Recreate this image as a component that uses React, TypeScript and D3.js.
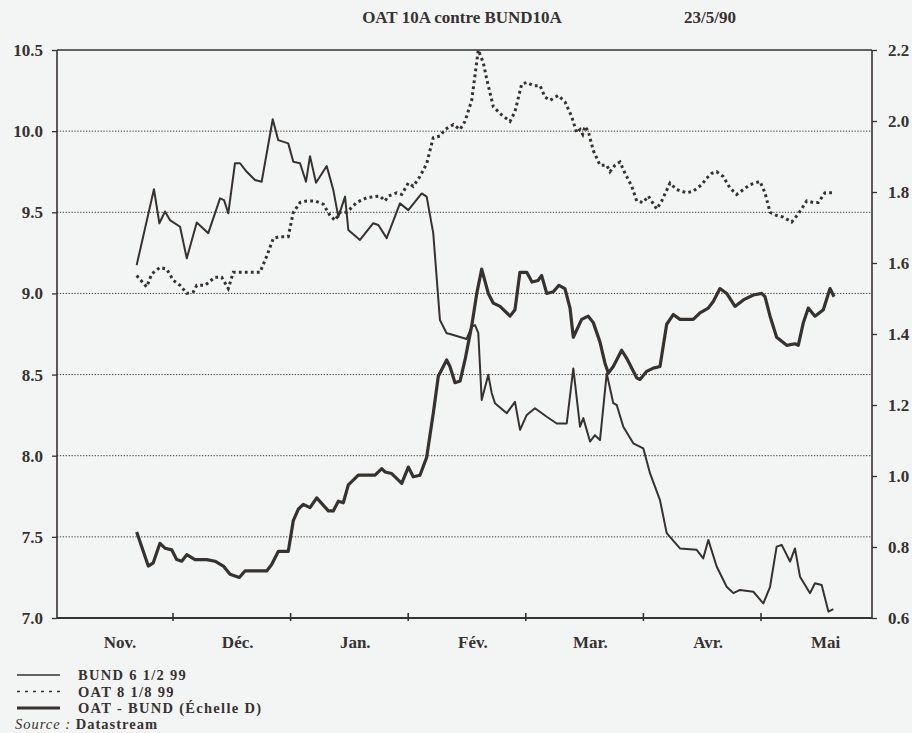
import { useRef, useEffect } from "react";
import * as d3 from "d3";

// x = months since 1 Nov 1989 (equal-width months), y = value
const bund: [number, number][] = [
  [0.691, 7.53], [0.79, 7.32], [0.832, 7.34], [0.889, 7.46], [0.932, 7.43], [0.989, 7.42],
  [1.031, 7.36], [1.074, 7.35], [1.117, 7.39], [1.187, 7.36], [1.287, 7.36], [1.357, 7.35],
  [1.428, 7.32], [1.485, 7.27], [1.564, 7.25], [1.612, 7.29], [1.683, 7.29], [1.797, 7.29],
  [1.839, 7.33], [1.895, 7.41], [1.98, 7.41], [2.023, 7.6], [2.065, 7.67], [2.108, 7.7],
  [2.165, 7.68], [2.222, 7.74], [2.321, 7.66], [2.363, 7.66], [2.406, 7.72], [2.448, 7.71],
  [2.491, 7.82], [2.576, 7.88], [2.718, 7.88], [2.775, 7.92], [2.803, 7.9], [2.86, 7.89],
  [2.945, 7.83], [3.001, 7.93], [3.043, 7.87], [3.1, 7.88], [3.157, 7.99], [3.213, 8.26],
  [3.256, 8.49], [3.327, 8.59], [3.355, 8.55], [3.398, 8.45], [3.441, 8.46], [3.483, 8.59],
  [3.54, 8.8], [3.583, 9.0], [3.625, 9.15], [3.681, 9.0], [3.724, 8.94], [3.781, 8.92],
  [3.866, 8.86], [3.908, 8.9], [3.95, 9.13], [4.008, 9.13], [4.053, 9.07], [4.104, 9.08],
  [4.135, 9.11], [4.178, 9.0], [4.234, 9.01], [4.282, 9.05], [4.333, 9.03], [4.376, 8.91],
  [4.404, 8.73], [4.475, 8.84], [4.531, 8.86], [4.574, 8.82], [4.631, 8.7], [4.673, 8.57],
  [4.702, 8.51], [4.744, 8.55], [4.815, 8.65], [4.858, 8.6], [4.943, 8.48], [4.971, 8.47],
  [5.028, 8.52], [5.084, 8.54], [5.141, 8.55], [5.198, 8.81], [5.254, 8.87], [5.311, 8.84],
  [5.424, 8.84], [5.481, 8.88], [5.552, 8.91], [5.594, 8.95], [5.651, 9.03], [5.708, 9.0],
  [5.779, 8.92], [5.85, 8.96], [5.935, 8.99], [6.006, 9.0], [6.034, 8.98], [6.077, 8.86],
  [6.133, 8.73], [6.219, 8.68], [6.289, 8.69], [6.317, 8.68], [6.36, 8.82], [6.402, 8.91],
  [6.459, 8.86], [6.53, 8.9], [6.587, 9.03], [6.621, 8.98],
];

const oat: [number, number][] = [
  [0.691, 9.11], [0.776, 9.04], [0.819, 9.12], [0.889, 9.16], [0.946, 9.15], [1.003, 9.08],
  [1.06, 9.05], [1.117, 9.0], [1.173, 9.01], [1.202, 9.05], [1.272, 9.05], [1.357, 9.1],
  [1.414, 9.1], [1.47, 9.03], [1.513, 9.13], [1.598, 9.13], [1.74, 9.13], [1.797, 9.23],
  [1.853, 9.34], [1.91, 9.35], [1.98, 9.35], [2.023, 9.5], [2.08, 9.56], [2.137, 9.57],
  [2.207, 9.57], [2.278, 9.55], [2.335, 9.48], [2.378, 9.45], [2.42, 9.5], [2.477, 9.5],
  [2.562, 9.56], [2.647, 9.59], [2.76, 9.6], [2.803, 9.57], [2.831, 9.6], [2.902, 9.62],
  [2.945, 9.61], [3.001, 9.68], [3.043, 9.66], [3.1, 9.72], [3.157, 9.8], [3.213, 9.96],
  [3.27, 9.97], [3.313, 10.01], [3.384, 10.04], [3.441, 10.01], [3.483, 10.06], [3.54, 10.19],
  [3.596, 10.5], [3.639, 10.42], [3.668, 10.32], [3.724, 10.15], [3.795, 10.1], [3.866, 10.06],
  [3.908, 10.12], [3.965, 10.29], [4.008, 10.3], [4.064, 10.28], [4.121, 10.28], [4.163, 10.21],
  [4.206, 10.19], [4.276, 10.22], [4.333, 10.18], [4.39, 10.09], [4.433, 9.99], [4.461, 10.01],
  [4.484, 9.98], [4.503, 10.03], [4.531, 10.0], [4.574, 9.88], [4.631, 9.79], [4.688, 9.79],
  [4.716, 9.75], [4.759, 9.79], [4.801, 9.81], [4.844, 9.74], [4.901, 9.66], [4.943, 9.57],
  [4.999, 9.56], [5.042, 9.6], [5.113, 9.52], [5.156, 9.57], [5.226, 9.68], [5.283, 9.64],
  [5.368, 9.62], [5.424, 9.63], [5.496, 9.67], [5.538, 9.71], [5.581, 9.74], [5.623, 9.75],
  [5.679, 9.72], [5.736, 9.65], [5.793, 9.61], [5.85, 9.64], [5.906, 9.67], [5.991, 9.69],
  [6.034, 9.62], [6.077, 9.5], [6.133, 9.48], [6.19, 9.47], [6.261, 9.44], [6.317, 9.49],
  [6.389, 9.57], [6.445, 9.56], [6.487, 9.56], [6.544, 9.62], [6.615, 9.62],
];

const spread: [number, number][] = [
  [0.691, 1.594], [0.838, 1.808], [0.884, 1.712], [0.932, 1.745], [0.974, 1.721], [1.06, 1.702],
  [1.117, 1.613], [1.202, 1.714], [1.3, 1.684], [1.4, 1.782], [1.434, 1.777], [1.47, 1.74],
  [1.527, 1.881], [1.57, 1.881], [1.627, 1.857], [1.697, 1.834], [1.754, 1.829], [1.848, 2.005],
  [1.895, 1.946], [1.98, 1.937], [2.023, 1.885], [2.08, 1.881], [2.131, 1.829], [2.165, 1.901],
  [2.216, 1.826], [2.307, 1.873], [2.363, 1.806], [2.406, 1.73], [2.463, 1.787], [2.491, 1.693],
  [2.59, 1.665], [2.703, 1.712], [2.746, 1.707], [2.817, 1.67], [2.93, 1.768], [3.001, 1.749],
  [3.115, 1.796], [3.157, 1.787], [3.213, 1.684], [3.27, 1.439], [3.327, 1.402], [3.355, 1.4],
  [3.497, 1.386], [3.54, 1.421], [3.568, 1.425], [3.596, 1.403], [3.625, 1.214], [3.681, 1.285],
  [3.71, 1.234], [3.738, 1.205], [3.838, 1.177], [3.908, 1.209], [3.951, 1.13], [4.008, 1.172],
  [4.078, 1.191], [4.178, 1.167], [4.263, 1.148], [4.348, 1.148], [4.404, 1.303], [4.461, 1.139],
  [4.489, 1.163], [4.546, 1.097], [4.588, 1.115], [4.631, 1.101], [4.688, 1.289], [4.744, 1.205],
  [4.773, 1.2], [4.829, 1.139], [4.914, 1.092], [4.999, 1.078], [5.056, 1.008], [5.141, 0.932],
  [5.198, 0.839], [5.311, 0.796], [5.453, 0.792], [5.509, 0.768], [5.552, 0.82], [5.623, 0.745],
  [5.708, 0.688], [5.765, 0.67], [5.821, 0.679], [5.935, 0.674], [6.02, 0.641], [6.077, 0.688],
  [6.133, 0.801], [6.176, 0.806], [6.247, 0.759], [6.289, 0.796], [6.332, 0.716], [6.417, 0.67],
  [6.459, 0.698], [6.516, 0.693], [6.573, 0.618], [6.615, 0.625],
];

const months = ["Nov.", "Déc.", "Jan.", "Fév.", "Mar.", "Avr.", "Mai"];
const leftMajor = [7.0, 7.5, 8.0, 8.5, 9.0, 9.5, 10.0, 10.5];
const gridValues = [7.5, 8.0, 8.5, 9.0, 9.5, 10.0];
const rightMajor = [0.6, 0.8, 1.0, 1.2, 1.4, 1.6, 1.8, 2.0, 2.2];
const legendItems = ["BUND 6 1/2 99", "OAT 8 1/8 99", "OAT - BUND (Échelle D)"];

const INK = "#363230";
const PAPER = "#f3f5f4";
const FONT = "'Liberation Serif', 'Times New Roman', serif";

const App = () => {
  const svgRef = useRef<SVGSVGElement>(null);

  useEffect(() => {
    if (!svgRef.current) return;
    const width = 912;
    const height = 733;
    const left = 57;
    const right = 872;
    const top = 50;
    const bottom = 618;

    const svg = d3.select(svgRef.current).attr("width", width).attr("height", height);
    svg.selectAll("*").remove();

    svg.append("rect").attr("width", width).attr("height", height).attr("fill", PAPER);

    const x = d3.scaleLinear().domain([0, 7]).range([55.4, 878.6]);
    const yL = d3.scaleLinear().domain([7, 10.5]).range([bottom, top]);
    const yR = d3.scaleLinear().domain([0.6, 2.2]).range([bottom, top]);

    // dotted grid
    svg
      .append("g")
      .selectAll("line")
      .data(gridValues)
      .join("line")
      .attr("x1", left)
      .attr("x2", right)
      .attr("y1", (d) => yL(d))
      .attr("y2", (d) => yL(d))
      .attr("stroke", "#3e3a38")
      .attr("stroke-width", 1)
      .attr("stroke-dasharray", "1.3,1.6");

    // left axis: minor ticks, then major ticks + labels
    const minorL = d3.range(70, 106).map((d) => d / 10);
    const axL = svg.append("g").attr("transform", `translate(${left},0)`);
    axL.call(d3.axisLeft(yL).tickValues(minorL).tickSize(3).tickFormat(() => ""));
    axL.call(
      d3.axisLeft(yL).tickValues(leftMajor).tickSize(5).tickPadding(9).tickFormat(d3.format(".1f"))
    );
    axL.selectAll(".domain").remove();

    const minorR = d3.range(0, 41).map((i) => 0.6 + i * 0.04);
    const axR = svg.append("g").attr("transform", `translate(${right},0)`);
    axR.call(d3.axisRight(yR).tickValues(minorR).tickSize(4).tickFormat(() => ""));
    axR.call(
      d3.axisRight(yR).tickValues(rightMajor).tickSize(5).tickPadding(11).tickFormat(d3.format(".1f"))
    );
    axR.selectAll(".domain").remove();

    [axL, axR].forEach((g) => {
      g.selectAll("line").attr("stroke", INK).attr("stroke-width", 1.3);
      g.selectAll("text")
        .attr("fill", INK)
        .style("font-family", FONT)
        .style("font-size", "17px")
        .style("font-weight", "bold");
    });

    // frame
    const frame = svg.append("g").attr("stroke", INK).attr("fill", "none");
    frame.append("line").attr("x1", left).attr("x2", right).attr("y1", top).attr("y2", top).attr("stroke-width", 1.6);
    frame.append("line").attr("x1", left).attr("x2", right).attr("y1", bottom).attr("y2", bottom).attr("stroke-width", 2.2);
    frame.append("line").attr("x1", left).attr("x2", left).attr("y1", top).attr("y2", bottom).attr("stroke-width", 1.6);
    frame.append("line").attr("x1", right).attr("x2", right).attr("y1", top).attr("y2", bottom).attr("stroke-width", 1.6);

    // month ticks and labels
    svg
      .append("g")
      .selectAll("line")
      .data(d3.range(1, 7))
      .join("line")
      .attr("x1", (d) => x(d))
      .attr("x2", (d) => x(d))
      .attr("y1", bottom - 5)
      .attr("y2", bottom + 3)
      .attr("stroke", INK)
      .attr("stroke-width", 1.6);

    svg
      .append("g")
      .selectAll("text")
      .data(months)
      .join("text")
      .attr("x", (d, i) => x(i + 0.55))
      .attr("y", 648)
      .attr("text-anchor", "middle")
      .attr("fill", INK)
      .style("font-family", FONT)
      .style("font-size", "17px")
      .style("font-weight", "bold")
      .text((d) => d);

    // series
    const lineL = d3
      .line<[number, number]>()
      .x((d) => x(d[0]))
      .y((d) => yL(d[1]));
    const lineR = d3
      .line<[number, number]>()
      .x((d) => x(d[0]))
      .y((d) => yR(d[1]));

    svg
      .append("path")
      .datum(oat)
      .attr("d", lineL)
      .attr("fill", "none")
      .attr("stroke", INK)
      .attr("stroke-width", 3)
      .attr("stroke-dasharray", "2.8,3.2");

    svg
      .append("path")
      .datum(spread)
      .attr("d", lineR)
      .attr("fill", "none")
      .attr("stroke", INK)
      .attr("stroke-width", 2)
      .attr("stroke-linejoin", "round");

    svg
      .append("path")
      .datum(bund)
      .attr("d", lineL)
      .attr("fill", "none")
      .attr("stroke", INK)
      .attr("stroke-width", 3.2)
      .attr("stroke-linejoin", "round");

    // title
    const title = svg
      .append("g")
      .attr("fill", INK)
      .style("font-family", FONT)
      .style("font-size", "17px")
      .style("font-weight", "bold");
    title.append("text").attr("x", 462).attr("y", 23).attr("text-anchor", "middle").text("OAT 10A contre BUND10A");
    title.append("text").attr("x", 684).attr("y", 23).text("23/5/90");

    // legend
    const legend = svg.append("g");
    const styles = [
      { w: 1.4, dash: null },
      { w: 1.4, dash: "3,5" },
      { w: 3, dash: null },
    ];
    legendItems.forEach((label, i) => {
      const yy = 675 + i * 16.5;
      const ln = legend
        .append("line")
        .attr("x1", 17)
        .attr("x2", 60)
        .attr("y1", yy)
        .attr("y2", yy)
        .attr("stroke", INK)
        .attr("stroke-width", styles[i].w);
      if (styles[i].dash) ln.attr("stroke-dasharray", styles[i].dash);
      legend
        .append("text")
        .attr("x", 78)
        .attr("y", yy + 5)
        .attr("fill", INK)
        .style("font-family", FONT)
        .style("font-size", "14.5px")
        .style("letter-spacing", "1.3px")
        .style("font-weight", "bold")
        .text(label);
    });

    const src = legend
      .append("text")
      .attr("x", 15)
      .attr("y", 729)
      .attr("fill", INK)
      .style("font-family", FONT)
      .style("font-size", "14.5px")
      .style("letter-spacing", "1px");
    src.append("tspan").style("font-style", "italic").text("Source :");
    src.append("tspan").style("font-weight", "bold").text(" Datastream");
  }, []);

  return (
    <div style={{ position: "absolute", left: 0, top: 0, width: 912, height: 733, background: PAPER }}>
      <svg ref={svgRef} style={{ display: "block" }}></svg>
    </div>
  );
};

export default App;
